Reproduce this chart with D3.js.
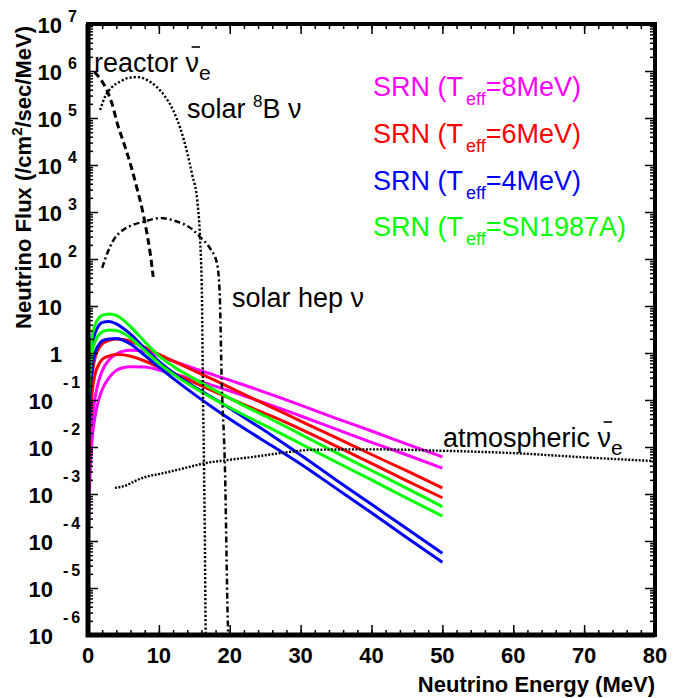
<!DOCTYPE html>
<html>
<head>
<meta charset="utf-8">
<script src="https://cdn.jsdelivr.net/npm/d3@7/dist/d3.min.js"></script>
<style>
body { margin: 0; background: #fff; }
svg { display: block; }
text { font-family: "Liberation Sans", Arial, Helvetica, sans-serif; fill: #000; }
.tick line { stroke: #000; stroke-width: 1.5; }
</style>
</head>
<body>
<div id="chart"></div>
<script>
// All fluxes are log10(flux /cm^2/sec/MeV).
var srnEnergy = [0.1, 0.25, 0.5, 1, 1.5, 2, 3, 4, 5, 6, 8, 10, 12, 15, 18, 22, 26, 30, 35, 40, 45, 50];
var srn8Hi  = [-3.2, -2.3, -1.6, -0.95, -0.6, -0.38, -0.14, -0.02, 0.04, 0.06, 0.03, -0.06, -0.17, -0.33, -0.48, -0.68, -0.89, -1.11, -1.39, -1.66, -1.94, -2.21];
var srn8Lo  = [-3.66, -2.75, -2.0, -1.35, -1.0, -0.78, -0.52, -0.37, -0.31, -0.29, -0.30, -0.36, -0.44, -0.57, -0.71, -0.91, -1.12, -1.34, -1.62, -1.90, -2.17, -2.45];
var srn6Hi  = [-2.1, -1.25, -0.6, -0.1, 0.09, 0.19, 0.27, 0.30, 0.29, 0.25, 0.12, -0.03, -0.17, -0.38, -0.59, -0.88, -1.16, -1.45, -1.80, -2.16, -2.51, -2.87];
var srn6Lo  = [-2.5, -1.65, -1.0, -0.45, -0.25, -0.14, -0.06, -0.03, -0.04, -0.07, -0.17, -0.30, -0.43, -0.63, -0.83, -1.10, -1.35, -1.62, -1.98, -2.35, -2.72, -3.08];
var srn4Hi  = [-1.4, -0.6, 0.0, 0.42, 0.58, 0.65, 0.67, 0.62, 0.52, 0.40, 0.10, -0.18, -0.42, -0.72, -0.99, -1.37, -1.76, -2.17, -2.70, -3.22, -3.74, -4.26];
var srn4Lo  = [-1.9, -1.05, -0.45, 0.0, 0.17, 0.26, 0.30, 0.31, 0.27, 0.19, -0.05, -0.30, -0.54, -0.88, -1.20, -1.60, -1.98, -2.36, -2.88, -3.40, -3.93, -4.45];
var srn87Hi = [-0.64, -0.15, 0.28, 0.60, 0.74, 0.80, 0.83, 0.80, 0.70, 0.56, 0.24, -0.06, -0.28, -0.55, -0.80, -1.12, -1.42, -1.73, -2.12, -2.50, -2.88, -3.27];
var srn87Lo = [-0.96, -0.50, -0.08, 0.24, 0.38, 0.45, 0.49, 0.48, 0.42, 0.32, 0.05, -0.22, -0.45, -0.74, -1.00, -1.32, -1.62, -1.93, -2.32, -2.70, -3.09, -3.47];

var reactorEnergy = [0.9, 2.5, 3.4, 4.2, 5.2, 6.1, 6.9, 7.6, 8.2, 8.75, 9.2];
var reactorFlux   = [5.98, 5.64, 5.30, 4.85, 4.40, 3.96, 3.51, 3.09, 2.64, 2.15, 1.62];

var b8Energy = [1.7, 2.4, 3.4, 4.5, 5.6, 6.9, 8.3, 9.7, 10.9, 12.0, 13.0, 14.0, 14.7, 15.4, 15.8, 16.08, 16.23, 16.37, 16.5, 16.6];
var b8Flux   = [5.17, 5.45, 5.66, 5.77, 5.85, 5.87, 5.81, 5.66, 5.45, 5.17, 4.79, 4.26, 3.79, 3.26, 2.47, 1.13, -0.94, -2.43, -4.19, -6.1];

var hepEnergy = [2.0, 3.1, 3.8, 4.8, 5.9, 7.8, 10.2, 12.3, 14.8, 15.8, 17.2, 18.2, 18.6, 18.86, 19.33, 19.71, 19.8];
var hepFlux   = [1.81, 2.26, 2.45, 2.60, 2.70, 2.79, 2.87, 2.81, 2.62, 2.47, 2.23, 1.91, 1.19, -0.57, -2.49, -5.62, -6.1];

var atmEnergy = [3.8, 5.5, 6.4, 8.3, 10.2, 12.5, 14.4, 16.3, 19.6, 24.3, 27.6, 31.8, 40.3, 50, 60, 70, 80];
var atmFlux   = [-2.87, -2.81, -2.74, -2.63, -2.57, -2.49, -2.42, -2.35, -2.28, -2.19, -2.12, -2.06, -2.05, -2.08, -2.13, -2.22, -2.30];

var xTicks = [0, 10, 20, 30, 40, 50, 60, 70, 80];
var yExponents = [-6, -5, -4, -3, -2, -1, 0, 1, 2, 3, 4, 5, 6, 7];

var srnSeries = [
    { name: "SRN (T", sub: "eff", rest: "=8MeV)", color: "#ff00ff", hi: srn8Hi, lo: srn8Lo },
    { name: "SRN (T", sub: "eff", rest: "=6MeV)", color: "#ff0000", hi: srn6Hi, lo: srn6Lo },
    { name: "SRN (T", sub: "eff", rest: "=4MeV)", color: "#0000ff", hi: srn4Hi, lo: srn4Lo },
    { name: "SRN (T", sub: "eff", rest: "=SN1987A)", color: "#00ff00", hi: srn87Hi, lo: srn87Lo }
];

drawChart();

function drawChart() {
    var width = 673, height = 698;
    var fLeft = 88, fRight = 655, fTop = 24, fBottom = 635;

    var svg = d3.select("#chart").append("svg")
        .attr("width", width)
        .attr("height", height);

    var x = d3.scaleLinear().domain([0, 80]).range([fLeft, fRight]);
    var y = d3.scaleLog().domain([1e-6, 1e7]).range([fBottom, fTop]);

    svg.append("clipPath").attr("id", "plotclip")
        .append("rect")
        .attr("x", fLeft).attr("y", fTop)
        .attr("width", fRight - fLeft).attr("height", fBottom - fTop);

    function pairs(es, logs) {
        return es.map(function (e, i) { return [e, Math.pow(10, logs[i])]; });
    }

    var line = d3.line()
        .x(function (d) { return x(d[0]); })
        .y(function (d) { return y(d[1]); })
        .curve(d3.curveMonotoneX);

    var plot = svg.append("g").attr("clip-path", "url(#plotclip)");

    // SRN curves, two per model
    srnSeries.forEach(function (s) {
        [s.hi, s.lo].forEach(function (vals) {
            plot.append("path")
                .attr("d", line(pairs(srnEnergy, vals)))
                .attr("fill", "none")
                .attr("stroke", s.color)
                .attr("stroke-width", 3);
        });
    });

    // background sources
    plot.append("path")
        .attr("d", line(pairs(reactorEnergy, reactorFlux)))
        .attr("fill", "none").attr("stroke", "#000")
        .attr("stroke-width", 3).attr("stroke-dasharray", "7,4");
    plot.append("path")
        .attr("d", line(pairs(b8Energy, b8Flux)))
        .attr("fill", "none").attr("stroke", "#000")
        .attr("stroke-width", 2.4).attr("stroke-dasharray", "2.2,2");
    plot.append("path")
        .attr("d", line(pairs(hepEnergy, hepFlux)))
        .attr("fill", "none").attr("stroke", "#000")
        .attr("stroke-width", 2.5).attr("stroke-dasharray", "6,3,2,3");
    plot.append("path")
        .attr("d", line(pairs(atmEnergy, atmFlux)))
        .attr("fill", "none").attr("stroke", "#000")
        .attr("stroke-width", 2.4).attr("stroke-dasharray", "2,1.5");

    // axes ticks (inside the frame)
    var minorX = d3.range(0, 81, 2);
    var majorY = yExponents.map(function (p) { return Math.pow(10, p); });
    var minorY = [];
    yExponents.slice(0, -1).forEach(function (p) {
        for (var m = 2; m <= 9; m++) minorY.push(m * Math.pow(10, p));
    });

    function ticks(axis, transform) {
        var g = svg.append("g").attr("transform", transform).call(axis);
        g.select(".domain").remove();
    }
    ticks(d3.axisBottom(x).tickValues(xTicks).tickSize(-10).tickFormat(""), "translate(0," + fBottom + ")");
    ticks(d3.axisBottom(x).tickValues(minorX).tickSize(-5).tickFormat(""), "translate(0," + fBottom + ")");
    ticks(d3.axisTop(x).tickValues(xTicks).tickSize(-10).tickFormat(""), "translate(0," + fTop + ")");
    ticks(d3.axisTop(x).tickValues(minorX).tickSize(-5).tickFormat(""), "translate(0," + fTop + ")");
    ticks(d3.axisLeft(y).tickValues(majorY).tickSize(-10).tickFormat(""), "translate(" + fLeft + ",0)");
    ticks(d3.axisLeft(y).tickValues(minorY).tickSize(-5).tickFormat(""), "translate(" + fLeft + ",0)");
    ticks(d3.axisRight(y).tickValues(majorY).tickSize(-10).tickFormat(""), "translate(" + fRight + ",0)");
    ticks(d3.axisRight(y).tickValues(minorY).tickSize(-5).tickFormat(""), "translate(" + fRight + ",0)");

    // frame (left and bottom drawn a bit heavier, as in the original)
    svg.append("rect")
        .attr("x", fLeft).attr("y", fTop)
        .attr("width", fRight - fLeft).attr("height", fBottom - fTop)
        .attr("fill", "none").attr("stroke", "#000").attr("stroke-width", 4);
    svg.append("path")
        .attr("d", "M" + fLeft + "," + fTop + "V" + fBottom + "H" + fRight)
        .attr("fill", "none").attr("stroke", "#000").attr("stroke-width", 5);

    // x tick labels
    svg.append("g").selectAll("text")
        .data(xTicks).enter().append("text")
        .attr("x", function (d) { return x(d); })
        .attr("y", 663)
        .attr("text-anchor", "middle")
        .attr("font-size", 22).attr("font-weight", "bold")
        .text(function (d) { return d; });

    // y tick labels, ROOT style 10^n
    var ylab = svg.append("g").attr("font-weight", "bold");
    yExponents.forEach(function (p) {
        var ty = y(Math.pow(10, p));
        if (p === 0 || p === 1) {
            ylab.append("text").attr("x", 62).attr("y", ty + 9)
                .attr("text-anchor", "end").attr("font-size", 22)
                .text(p === 0 ? "1" : "10");
        } else if (p > 1) {
            ylab.append("text").attr("x", 62).attr("y", ty + 9)
                .attr("text-anchor", "end").attr("font-size", 22).text("10");
            ylab.append("text").attr("x", 68).attr("y", ty - 2)
                .attr("font-size", 16).text(p);
        } else {
            ylab.append("text").attr("x", 53).attr("y", ty + 9)
                .attr("text-anchor", "end").attr("font-size", 22).text("10");
            ylab.append("text").attr("x", 63).attr("y", ty - 12)
                .attr("font-size", 16).attr("letter-spacing", 3).text(p);
        }
    });

    // axis titles
    svg.append("text")
        .attr("x", fRight).attr("y", 692)
        .attr("text-anchor", "end")
        .attr("font-size", 22).attr("font-weight", "bold")
        .text("Neutrino Energy (MeV)");

    var ytitle = svg.append("text")
        .attr("transform", "translate(31,26) rotate(-90)")
        .attr("text-anchor", "end")
        .attr("font-size", 22).attr("font-weight", "bold");
    ytitle.append("tspan").text("Neutrino Flux (/cm");
    ytitle.append("tspan").attr("dy", -9).attr("font-size", 15).text("2");
    ytitle.append("tspan").attr("dy", 9).text("/sec/MeV)");

    // source annotations
    function nuBarLabel(word, tx, ty) {
        var t = svg.append("text").attr("x", tx).attr("y", ty).attr("font-size", 27);
        t.append("tspan").text(word + " ");
        t.append("tspan").text("\u03bd");
        t.append("tspan").attr("dy", 8).attr("font-size", 21).text("e");
        var box = t.node().getExtentOfChar(word.length + 1);
        svg.append("line")
            .attr("x1", box.x + box.width * 0.45).attr("x2", box.x + box.width + 1)
            .attr("y1", ty - 25).attr("y2", ty - 25)
            .attr("stroke", "#000").attr("stroke-width", 1.6);
    }
    nuBarLabel("reactor", 94, 72);
    nuBarLabel("atmospheric", 443, 447);

    var b8 = svg.append("text").attr("x", 187).attr("y", 118).attr("font-size", 27);
    b8.append("tspan").text("solar ");
    b8.append("tspan").attr("dy", -11).attr("font-size", 17).text("8");
    b8.append("tspan").attr("dy", 11).text("B \u03bd");

    svg.append("text").attr("x", 232).attr("y", 307).attr("font-size", 27)
        .text("solar hep \u03bd");

    // legend
    srnSeries.forEach(function (s, i) {
        var t = svg.append("text")
            .attr("x", 373).attr("y", 96 + i * 46.8)
            .attr("font-size", 27).style("fill", s.color);
        t.append("tspan").text(s.name);
        t.append("tspan").attr("dx", 3).attr("dy", 9).attr("font-size", 18).text(s.sub);
        t.append("tspan").attr("dy", -9).text(s.rest);
    });
}
</script>
</body>
</html>
